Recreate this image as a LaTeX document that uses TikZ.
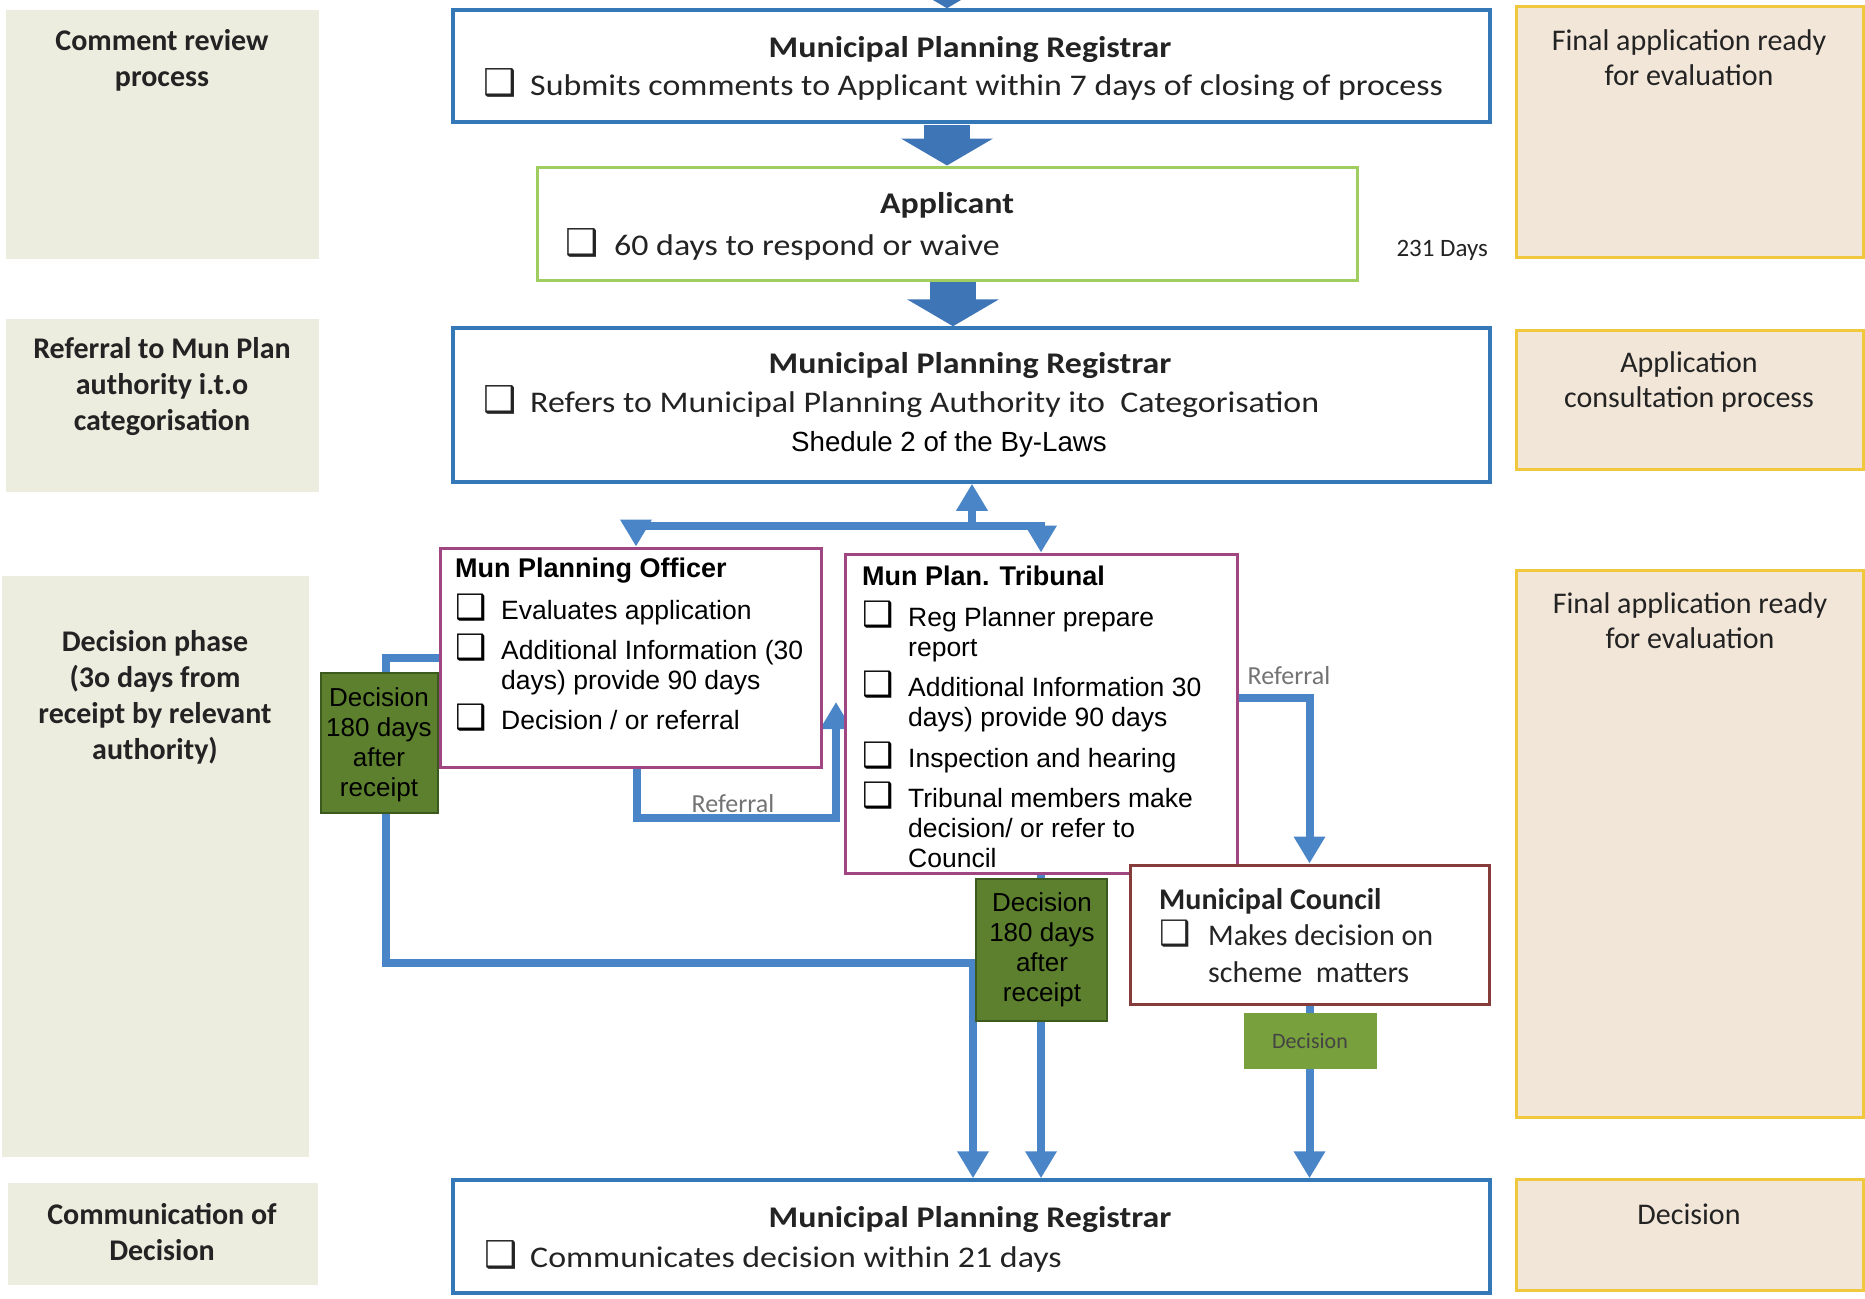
\documentclass[tikz,border=0pt]{standalone}
\usepackage{fontspec}
\setmainfont{Carlito}
\newfontfamily\calw{Carlito}[FakeStretch=1.13]
\newfontfamily\arialf{Liberation Sans}
\newfontfamily\dejavuf{DejaVu Sans}
\usetikzlibrary{arrows.meta,fit}
\pgfdeclarelayer{bg}
\pgfsetlayers{bg,main}

\definecolor{leftfill}{RGB}{236,236,223}
\definecolor{rightfill}{RGB}{242,230,216}
\definecolor{rightline}{RGB}{240,200,62}
\definecolor{blueline}{RGB}{52,120,184}
\definecolor{greenline}{RGB}{160,205,96}
\definecolor{purpline}{RGB}{160,70,130}
\definecolor{councilline}{RGB}{135,60,60}
\definecolor{connblue}{RGB}{74,134,199}
\definecolor{arrblue}{RGB}{62,117,182}
\definecolor{decgreen}{RGB}{92,128,46}
\definecolor{decgreenline}{RGB}{60,90,30}
\definecolor{smallgreen}{RGB}{120,160,60}
\definecolor{txt}{RGB}{35,35,35}
\definecolor{lbl}{RGB}{115,115,115}

\newcommand{\fs}[2]{\fontsize{#1}{#2}\selectfont}
\newcommand{\bxg}[2]{\makebox[#1][l]{\dejavuf\fontsize{#2}{30}\selectfont ❑}}
\newcommand{\lines}[1]{\begin{tabular}[t]{@{}l@{}}#1\end{tabular}}

\begin{document}
\begin{tikzpicture}[x=1pt,y=-1pt,
  leftbox/.style={fill=leftfill, draw=none, inner sep=0pt},
  rightbox/.style={fill=rightfill, draw=rightline, line width=3pt, inner sep=0pt},
  bluebox/.style={fill=white, draw=blueline, line width=3.5pt, inner sep=0pt},
  appbox/.style={fill=white, draw=greenline, line width=3pt, inner sep=0pt},
  purpbox/.style={fill=white, draw=purpline, line width=3pt, inner sep=0pt},
  councilbox/.style={fill=white, draw=councilline, line width=3pt, inner sep=0pt},
  decbox/.style={fill=decgreen, draw=decgreenline, line width=1.2pt, inner sep=0pt},
  smalldec/.style={fill=smallgreen, draw=none, inner sep=0pt},
  conn/.style={draw=connblue, line width=8pt, -{Triangle[width=30pt,length=27pt]}},
  blockarr/.style={draw=arrblue, line width=46pt, -{Triangle[width=91pt,length=27pt]}},
  lefttxt/.style={font=\bfseries\fs{30}{36}, align=center, text=txt},
  righttxt/.style={font=\fs{30}{35}, align=center, text=txt},
  ttl/.style={font=\calw\bfseries\fs{30}{36}, anchor=base, text=txt, inner sep=0pt},
  bul/.style={font=\calw\fs{30}{36}, anchor=base west, text=txt, inner sep=0pt},
  atitle/.style={font=\arialf\bfseries\fs{27}{30}, anchor=base west, text=black, inner sep=0pt},
  abul/.style={font=\arialf\fs{26.5}{30}, anchor=base west, text=black, inner sep=0pt},
  dectxt/.style={font=\arialf\fs{26}{30}, align=center, text=black},
  reflbl/.style={font=\fs{26}{30}, text=lbl}
]
\useasboundingbox (0,0) rectangle (1865,1298);

% ---------- left column ----------
\node[leftbox, fit={(6,10) (319,259)}] (l1) {};
\node[leftbox, fit={(6,319) (319,492)}] (l2) {};
\node[leftbox, fit={(2,576) (309,1157)}] (l3) {};
\node[leftbox, fit={(8,1183) (318,1285)}] (l4) {};
\node[lefttxt] (l1t) at (162,60) {Comment review\\process};
\node[lefttxt] (l2t) at (162,387) {Referral to Mun Plan\\authority i.t.o\\categorisation};
\node[lefttxt] (l3t) at (155,697) {Decision phase\\(3o days from\\receipt by relevant\\authority)};
\node[lefttxt] (l4t) at (162,1232) {Communication of\\Decision};

% ---------- right column ----------
\node[rightbox, fit={(1516,7) (1863,257)}] (r1) {};
\node[rightbox, fit={(1516,330) (1863,469)}] (r2) {};
\node[rightbox, fit={(1516,570) (1863,1117)}] (r3) {};
\node[rightbox, fit={(1516,1179) (1863,1290)}] (r4) {};
\node[righttxt] (r1t) at (1689,58) {Final application ready\\for evaluation};
\node[righttxt] (r2t) at (1689,382) {Application\\consultation process};
\node[righttxt] (r3t) at (1690,621) {Final application ready\\for evaluation};
\node[righttxt] (r4t) at (1689,1214) {Decision};

% ---------- centre boxes ----------
\node[bluebox, fit={(453,10) (1490,122)}] (b1) {};
\node[appbox, fit={(537,167) (1357,280)}] (a) {};
\node[bluebox, fit={(453,328) (1490,482)}] (b2) {};
\node[purpbox, fit={(440,548) (821,767)}] (offc) {};
\node[purpbox, fit={(845,554) (1237,873)}] (trib) {};
\node[councilbox, fit={(1130,865) (1489,1004)}] (council) {};
\node[bluebox, fit={(453,1180) (1490,1293)}] (b3) {};

% ---------- connectors ----------
\coordinate (ba0) at (947,-30);
\coordinate (ba1) at (947,125);
\coordinate (ba2) at (953,282);
\coordinate (jct) at (972,526);
\coordinate (jo) at (636,526);
\coordinate (lp1) at (386,963);
\coordinate (lp2) at (973,963);
\coordinate (ra) at (637,818);
\coordinate (rb) at (836,818);
\coordinate (rt) at (836,702);
\coordinate (rc) at (1311,698);
\begin{pgfonlayer}{bg}
  \draw[blockarr] (ba0) -- (ba0 |- b1.north);
  \draw[blockarr] (ba1) -- (ba1 |- a.north);
  \draw[blockarr] (ba2) -- (ba2 |- b2.north);
  \draw[conn] (jct) -- (jct |- b2.south);
  \draw[conn] (jct) -- (jo) -- (jo |- offc.north);
  \draw[conn] (jct) -| (trib.north);
  \draw[conn] (offc.west) -| (lp1) -- (lp2) -- (lp2 |- b3.north);
  \draw[conn] (offc.south -| ra) -- (ra) -- (rb) -- (rt);
  \draw[conn] (trib.east |- rc) -| (council.north);
  \draw[conn] (trib.south) -- (trib.south |- b3.north);
  \draw[conn] (council.south) -- (council.south |- b3.north);
\end{pgfonlayer}

% ---------- decision boxes ----------
\node[decbox, fit={(321,673) (438,813)}] (g1) {};
\node[decbox, fit={(976,879) (1107,1021)}] (g2) {};
\node[smalldec, fit={(1244,1013) (1377,1069)}] (g3) {};
\node[dectxt] (g1t) at (379,745) {Decision\\180 days\\after\\receipt};
\node[dectxt] (g2t) at (1042,950) {Decision\\180 days\\after\\receipt};
\node[font=\fs{22}{26}, text=txt!85] (g3t) at (1310,1041) {Decision};

% ---------- texts in boxes ----------
\node[ttl] (b1ttl) at (970,57) {Municipal Planning Registrar};
\node[bul] (b1b) at (483,95) {\bxg{47pt}{37}Submits comments to Applicant within 7 days of closing of process};

\node[ttl] (attl) at (947,213) {Applicant};
\node[bul] (ab) at (565,255) {\bxg{49pt}{37}60 days to respond or waive};
\node[font=\fs{25}{30}, anchor=west, text=txt] (days) at (1393,250) {231 Days};

\node[ttl] (b2ttl) at (970,373) {Municipal Planning Registrar};
\node[bul] (b2b) at (483,412) {\bxg{47pt}{37}Refers to Municipal Planning Authority ito\ \ Categorisation};
\node[font=\arialf\fs{27.7}{30}, anchor=base, text=black, inner sep=0pt] (shed) at (949,451) {Shedule 2 of the By-Laws};

\node[atitle] (offt) at (455,577) {Mun Planning Officer};
\node[abul] (ob1) at (455,619) {\bxg{46pt}{35}Evaluates application};
\node[abul] (ob2) at (455,659) {\bxg{46pt}{35}\lines{Additional Information (30\\days) provide 90 days}};
\node[abul] (ob3) at (455,729) {\bxg{46pt}{35}Decision / or referral};

\node[atitle] (tribt) at (862,585) {Mun Plan. Tribunal};
\node[abul] (tb1) at (862,626) {\bxg{46pt}{35}\lines{Reg Planner prepare\\report}};
\node[abul] (tb2) at (862,696) {\bxg{46pt}{35}\lines{Additional Information 30\\days) provide 90 days}};
\node[abul] (tb3) at (862,767) {\bxg{46pt}{35}Inspection and hearing};
\node[abul] (tb4) at (862,807) {\bxg{46pt}{35}\lines{Tribunal members make\\decision/ or refer to\\Council}};

\node[ttl, font=\bfseries\fs{30}{36}, anchor=base west] (ctitle) at (1159,909) {Municipal Council};
\node[bul, font=\fs{30}{37}] (cb) at (1159,945) {\bxg{49pt}{35}\lines{Makes decision on\\scheme\ \ matters}};

\node[ttl] (b3ttl) at (970,1227) {Municipal Planning Registrar};
\node[bul] (b3b) at (484,1267) {\bxg{46pt}{37}Communicates decision within 21 days};

\node[reflbl] (ref1) at (733,804) {Referral};
\node[reflbl] (ref2) at (1289,676) {Referral};
\end{tikzpicture}
\end{document}
